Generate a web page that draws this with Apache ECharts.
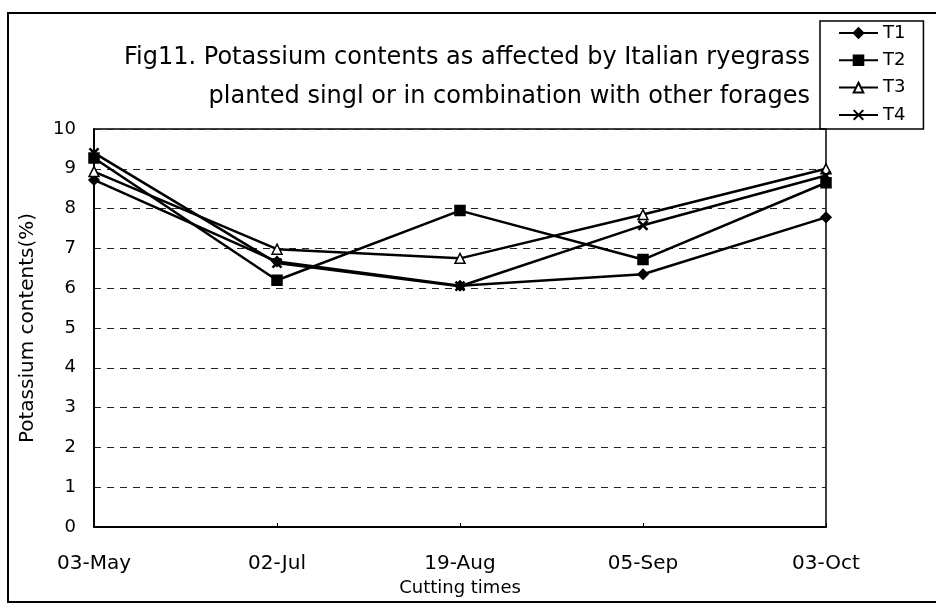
<!DOCTYPE html>
<html><head><meta charset="utf-8">
<script src="https://cdn.jsdelivr.net/npm/echarts@6/dist/echarts.min.js"></script>
<style>html,body{margin:0;padding:0;background:#fff}#c{width:936px;height:608px}</style>
</head><body><div id="c"></div>
<script>
const categories = ['03-May', '02-Jul', '19-Aug', '05-Sep', '03-Oct'];
const t1 = [8.72, 6.67, 6.06, 6.35, 7.78];
const t2 = [9.27, 6.2, 7.95, 6.72, 8.65];
const t3 = [8.93, 6.98, 6.75, 7.85, 9.0];
const t4 = [9.4, 6.63, 6.05, 7.58, 8.83];
const yTicks = [0, 10, 1];
const F = '"DejaVu Sans", Verdana, sans-serif';
const xPath = 'path://M0,0L10,10M10,0L0,10';
function mk(name, data, symbol, size, fill) {
  return {
    name, type: 'line', data, symbol, symbolSize: size, showSymbol: true,
    lineStyle: { color: '#000', width: 2.5 },
    itemStyle: { color: fill, borderColor: '#000', borderWidth: symbol === xPath ? 2.5 : 1.5 },
    emphasis: { disabled: true }, animation: false, z: 3
  };
}
const chart = echarts.init(document.getElementById('c'));
chart.setOption({
  animation: false,
  textStyle: { fontFamily: F, color: '#000' },
  grid: { left: 94, right: 110, top: 129, bottom: 81, show: true, borderColor: '#000', borderWidth: 1.5, backgroundColor: 'transparent' },
  xAxis: {
    type: 'category', data: categories, boundaryGap: false,
    axisLine: { lineStyle: { color: '#000', width: 2 } },
    axisTick: { show: true, inside: true, length: 4, lineStyle: { color: '#000' } },
    axisLabel: { color: '#000', fontSize: 20, fontFamily: F, margin: 27 },
    name: 'Cutting times', nameLocation: 'middle', nameGap: 47,
    nameTextStyle: { fontSize: 18, fontFamily: F, color: '#000' },
    splitLine: { show: false }
  },
  yAxis: {
    type: 'value', min: yTicks[0], max: yTicks[1], interval: yTicks[2],
    axisLine: { show: true, lineStyle: { color: '#000', width: 2 } },
    axisTick: { show: false },
    axisLabel: { color: '#000', fontSize: 18, fontFamily: F, margin: 18 },
    splitLine: { show: true, lineStyle: { color: '#222', type: [7, 6], width: 1 } },
    name: 'Potassium contents(%)', nameLocation: 'middle', nameGap: 56, nameRotate: 90,
    nameTextStyle: { fontSize: 20, fontFamily: F, color: '#000' }
  },
  legend: {
    orient: 'vertical', left: 820, top: 21,
    padding: [3, 18, 5, 18], itemGap: 9.3, itemWidth: 39, itemHeight: 12,
    borderColor: '#000', borderWidth: 1.5,
    textStyle: { fontSize: 18, fontFamily: F, color: '#000' },
    data: ['T1', 'T2', 'T3', 'T4']
  },
  graphic: [
    { type: 'polyline', shape: { points: [[936, 13], [8, 13], [8, 602], [936, 602]] }, style: { fill: 'none', stroke: '#000', lineWidth: 2 }, silent: true, z: -1 },
    { type: 'text', right: 126, top: 46, style: { text: 'Fig11. Potassium contents as affected by Italian ryegrass', font: '24px ' + F, fill: '#000' } },
    { type: 'text', right: 126, top: 85, style: { text: 'planted singl or in combination with other forages', font: '24px ' + F, fill: '#000' } }
  ],
  series: [
    mk('T1', t1, 'diamond', 10, '#000'),
    mk('T2', t2, 'rect', 10, '#000'),
    mk('T3', t3, 'triangle', 10, '#fff'),
    mk('T4', t4, xPath, 9, '#000')
  ]
});
</script></body></html>
